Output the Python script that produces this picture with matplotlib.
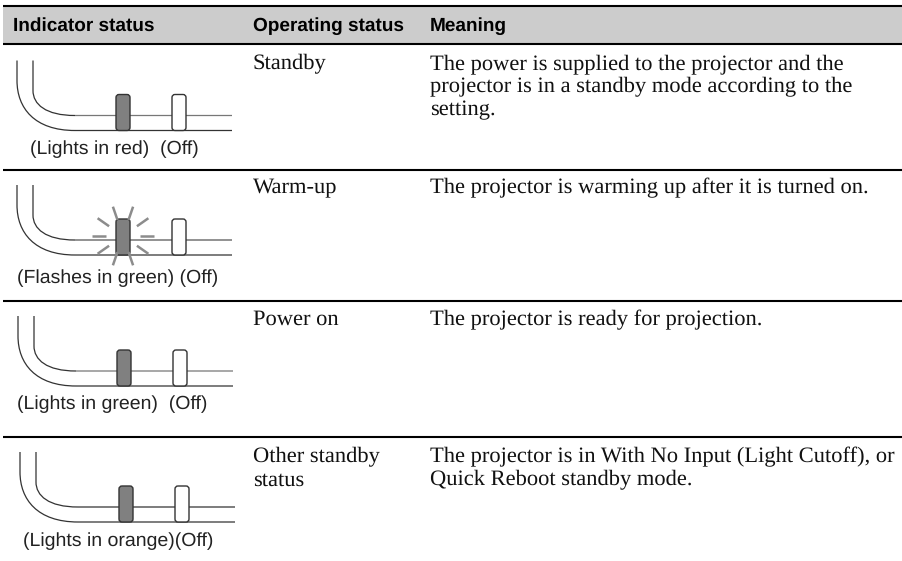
import numpy as np
import matplotlib
matplotlib.use('Agg')
import matplotlib.pyplot as plt
from matplotlib.path import Path
from matplotlib.patches import PathPatch, FancyBboxPatch, Rectangle

plt.rcParams['text.hinting'] = 'none'

# table contents
headers = ['Indicator status', 'Operating status', 'Meaning']
header_x = [13, 253, 430]
lamp_labels = [
    '(Lights in red)  (Off)',
    '(Flashes in green) (Off)',
    '(Lights in green)  (Off)',
    '(Lights in orange)(Off)',
]
label_x = [30, 17, 17, 23]
label_y = [154, 283, 409, 546]
status = [['Standby'], ['Warm-up'], ['Power on'], ['Other standby', 'status']]
meaning = [
    ['The power is supplied to the projector and the',
     'projector is in a standby mode according to the',
     'setting.'],
    ['The projector is warming up after it is turned on.'],
    ['The projector is ready for projection.'],
    ['The projector is in With No Input (Light Cutoff), or',
     'Quick Reboot standby mode.'],
]
text_y = [69, 193, 325, 462]
line_step = 23.3
row_lines = [6, 44, 170, 301, 437]
# diagram placement: left edge offset and bottom of the frame
diagram_dx = [0, 0, 1, 3]
diagram_bottom = [130.5, 255, 386, 522]
inner_colors = ['#777777', '#555555', '#777777', '#333333']
flashing = [False, True, False, False]
ray_angles = [0, 35, 71, 109, 145, 180, 215, 251, 289, 325]

serif = ['Liberation Serif', 'DejaVu Serif']
sans = ['Liberation Sans', 'DejaVu Sans']

fig = plt.figure(figsize=(9.02, 5.61), dpi=100)
ax = fig.add_axes([0, 0, 1, 1])
ax.set_xlim(0, 902)
ax.set_ylim(561, 0)
ax.axis('off')


def draw_rail(x_left, y_end, x_end, x_right, y_top, corner, color):
    # vertical run and rounded corner stay dark, the straight run takes the colour
    verts = [(x_left, y_top), (x_left, y_end - corner),
             (x_left, y_end - corner * 0.45), (x_left + (x_end - x_left) * 0.3, y_end),
             (x_end, y_end)]
    codes = [Path.MOVETO, Path.LINETO, Path.CURVE4, Path.CURVE4, Path.CURVE4]
    ax.add_patch(PathPatch(Path(verts, codes), fc='none', ec='#333333', lw=0.9, zorder=2, snap=False))
    ax.plot([x_end, x_right], [y_end, y_end], color=color, lw=0.9, solid_capstyle='butt',
            zorder=2, snap=False)


def draw_lamp(x, bottom, color):
    lamp = FancyBboxPatch((x, bottom - 36), 14, 36, boxstyle='round,pad=0,rounding_size=3',
                          fc=color, ec='#333333', lw=1.0, zorder=3)
    ax.add_patch(lamp)


# header band
ax.add_patch(Rectangle((3, 6), 899, 38, fc='#cccccc', ec='none', zorder=0))
for y in row_lines:
    ax.plot([3, 902], [y, y], color='black', lw=1.5, solid_capstyle='butt', zorder=1)
for name, x in zip(headers, header_x):
    ax.text(x, 31, name, family=sans, weight='bold', fontsize=13.7, color='black', va='baseline')

for i in range(4):
    dx = diagram_dx[i]
    bottom = diagram_bottom[i]
    draw_rail(17 + dx, bottom, 75 + dx, 232 + dx, bottom - 70, 50, '#333333')
    draw_rail(33 + dx, bottom - 15, 75 + dx, 232 + dx, bottom - 70, 25, inner_colors[i])
    draw_lamp(116 + dx, bottom, '#808080')
    draw_lamp(172 + dx, bottom, 'white')
    if flashing[i]:
        cx = 123 + dx
        cy = bottom - 19
        for a in ray_angles:
            t = np.radians(a)
            ax.plot([cx + 17 * np.cos(t), cx + 31 * np.cos(t)],
                    [cy - 17 * np.sin(t), cy - 31 * np.sin(t)],
                    color='#8c8c8c', lw=1.8, solid_capstyle='butt', zorder=4)
    ax.text(label_x[i], label_y[i], lamp_labels[i], family=sans, fontsize=14, color='#222222', va='baseline')
    for j, line in enumerate(status[i]):
        ax.text(253, text_y[i] + j * line_step, line, family=serif, fontsize=16.2,
                color='#111111', va='baseline')
    for j, line in enumerate(meaning[i]):
        ax.text(430, text_y[i] + j * line_step, line, family=serif, fontsize=16.2,
                color='#111111', va='baseline')

fig.savefig('out.png', dpi=100)
